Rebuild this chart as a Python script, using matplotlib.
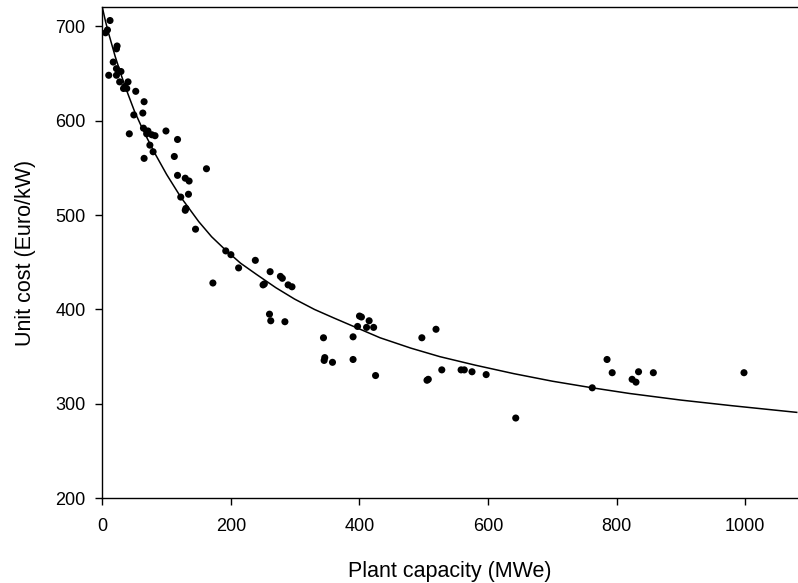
# ---------------------------------------------------------------------------------------------- #
# Unit cost versus plant capacity, scatter of plants with a fitted cost curve.
# ---------------------------------------------------------------------------------------------- #
import numpy as np
import matplotlib.pyplot as plt
# ---------------------------------------------------------------------------------------------- #


# ---------------------------------------------------------------------------------------------- #
# We define the data.
# ---------------------------------------------------------------------------------------------- #
CapacityVals = [5, 8, 12, 17, 22, 23, 10, 22, 29, 22, 27, 40, 35, 38, 33, 52, 65,
                49, 63, 42, 64, 71, 69, 77, 82, 99, 117, 74, 79, 65, 112, 162,
                117, 129, 135, 122, 134, 129, 130, 145, 192, 200, 172, 212, 238, 261,
                250, 252, 277, 280, 289, 295, 260, 262, 284, 344, 346, 345, 358, 390,
                390, 400, 403, 397, 415, 411, 422, 425, 497, 519, 505, 507, 528, 558,
                563, 575, 597, 643, 762, 785, 793, 824, 830, 834, 857, 998]
UnitCostVals = [693, 696, 706, 662, 676, 679, 648, 655, 652, 648, 641, 641, 636, 634, 634, 631, 620,
                606, 608, 586, 592, 589, 586, 585, 584, 589, 580, 574, 567, 560, 562, 549,
                542, 539, 536, 519, 522, 505, 507, 485, 462, 458, 428, 444, 452, 440,
                426, 427, 435, 433, 426, 424, 395, 388, 387, 370, 349, 346, 344, 347,
                371, 393, 392, 382, 388, 381, 381, 330, 370, 379, 325, 326, 336, 336,
                336, 334, 331, 285, 317, 347, 333, 326, 323, 334, 333, 333]

CurveX = [0, 5, 10, 20, 30, 40, 50, 60, 70, 82, 100, 122, 150, 170, 190, 215, 240, 270,
          299, 330, 360, 432, 480, 525, 580, 640, 700, 762, 820, 900, 980, 1080]
CurveY = [720, 705, 692, 668, 647, 628, 610, 595, 581, 565, 543, 519, 493, 477, 464, 449, 437, 423,
          411, 400, 391, 370, 359, 350, 341, 332, 324, 317, 311, 304, 298, 291]

XTicks = [0, 200, 400, 600, 800, 1000]
YTicks = [200, 300, 400, 500, 600, 700]
# ---------------------------------------------------------------------------------------------- #


# ---------------------------------------------------------------------------------------------- #
# We define plot properties.
# ---------------------------------------------------------------------------------------------- #
FontType = ['Liberation Sans', 'DejaVu Sans']
TickSize = 13
LabelSize = 15.5
plt.rcParams['font.family'] = FontType

Fig = plt.figure(figsize = (7.98, 5.83), dpi = 100)
Ax = Fig.add_axes([0.1282, 0.1453, 0.8718, 0.8422])

# We plot the fitted curve and the data.
Ax.plot(CurveX, CurveY, color = 'black', linewidth = 1.1, solid_joinstyle = 'round')
Ax.scatter(CapacityVals, UnitCostVals, s = 26, color = 'black', edgecolors = 'none',
           zorder = 3)

# We configure the axes.
Ax.set_xlim(0, 1082)
Ax.set_ylim(200, 720)
Ax.set_xticks(XTicks)
Ax.set_yticks(YTicks)
Ax.tick_params(direction = 'out', length = 5, width = 1, labelsize = TickSize)
Ax.tick_params(axis = 'y', pad = 7)
Ax.tick_params(axis = 'x', pad = 9)
Ax.spines['right'].set_visible(False)
for Side in ['left', 'bottom', 'top']:
    Ax.spines[Side].set_linewidth(1.0)
Ax.set_xlabel('Plant capacity (MWe)', fontsize = LabelSize, labelpad = 19)
Ax.set_ylabel('Unit cost (Euro/kW)', fontsize = LabelSize, labelpad = 14)

Fig.savefig('out.png', dpi = 100)
# ---------------------------------------------------------------------------------------------- #
